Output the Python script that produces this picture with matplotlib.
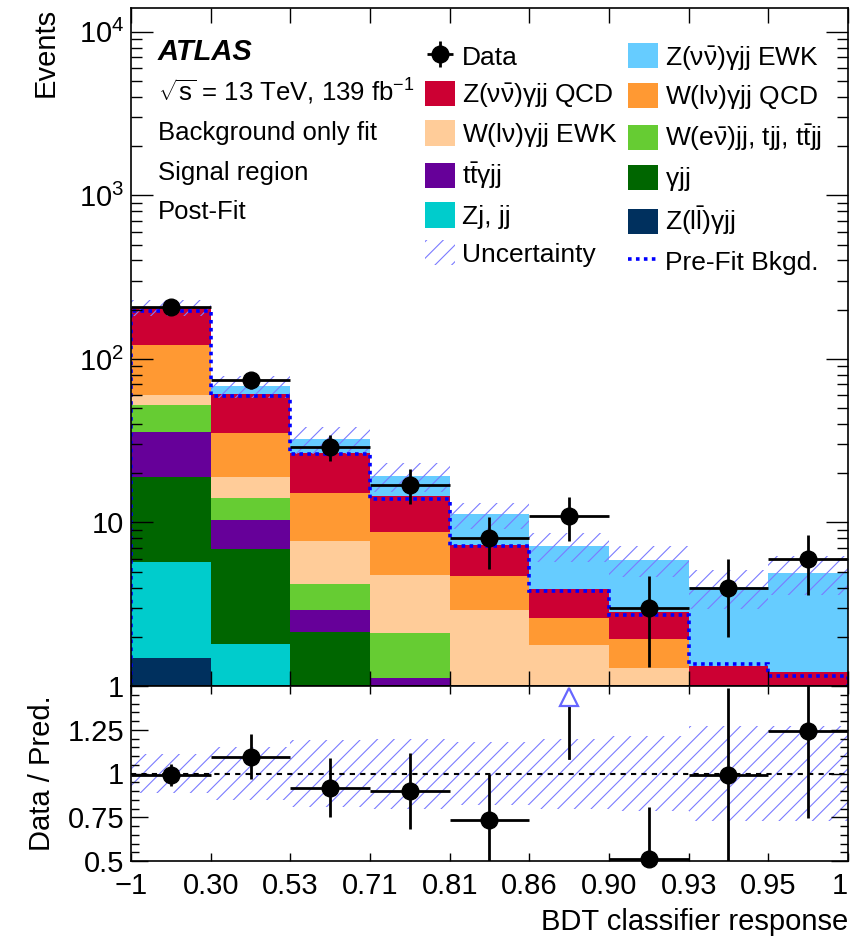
import numpy as np
import matplotlib
matplotlib.use("Agg")
import matplotlib.pyplot as plt
from matplotlib.patches import Patch
from matplotlib.lines import Line2D
from matplotlib.ticker import FixedLocator, LogLocator, NullFormatter, FuncFormatter, MultipleLocator

plt.rcParams['font.family'] = ['Liberation Sans', 'DejaVu Sans']
plt.rcParams['mathtext.fontset'] = 'custom'
plt.rcParams['mathtext.rm'] = 'Liberation Sans'
plt.rcParams['mathtext.it'] = 'Liberation Sans:italic'
plt.rcParams['mathtext.bf'] = 'Liberation Sans:bold'
plt.rcParams['mathtext.sf'] = 'Liberation Sans'
plt.rcParams['hatch.linewidth'] = 0.8

# bin edges of the BDT response (drawn with equal widths)
bin_labels = ["\u22121", "0.30", "0.53", "0.71", "0.81", "0.86", "0.90", "0.93", "0.95", "1"]

# post-fit yields, bottom of the stack first
zll_gjj = [1.49, 0.0, 0.1, 0.05, 0.02, 0.01, 0.01, 0.0, 0.0]
zj_jj = [4.22, 1.80, 0.5, 0.2, 0.1, 0.05, 0.03, 0.01, 0.01]
gjj = [13.26, 5.10, 1.55, 0.4, 0.15, 0.1, 0.05, 0.02, 0.02]
ttgjj = [17.03, 3.40, 0.78, 0.47, 0.2, 0.1, 0.05, 0.02, 0.02]
wejj = [16.2, 3.90, 1.28, 0.98, 0.4, 0.2, 0.1, 0.05, 0.05]
wgjj_ewk = [7.9, 4.90, 3.47, 2.70, 2.06, 1.31, 1.04, 0.3, 0.25]
wgjj_qcd = [62.3, 16.2, 7.5, 3.97, 1.78, 0.83, 0.66, 0.4, 0.35]
zgjj_qcd = [81.6, 25.7, 11.6, 5.73, 2.55, 1.34, 0.89, 0.53, 0.51]
zgjj_ewk = [3.0, 7.0, 5.5, 4.7, 3.94, 3.22, 3.10, 2.70, 3.70]

prefit_bkg = [196, 59.6, 26.4, 14.0, 7.2, 3.8, 2.73, 1.36, 1.15]
unc_rel = [0.11, 0.15, 0.19, 0.20, 0.18, 0.20, 0.215, 0.27, 0.27]

data = [209, 74, 29, 17, 8, 11, 3, 4, 6]
data_err = [14.5, 8.6, 5.4, 4.1, 2.8, 3.3, 1.7, 2.0, 2.4]

ratio = [0.99, 1.095, 0.92, 0.90, 0.733, 1.54, 0.51, 0.99, 1.245]
ratio_err = [0.063, 0.128, 0.17, 0.217, 0.267, 0.45, 0.30, 0.50, 0.50]

samples = [
    (r'Z($\mathrm{l\bar{l}}$)$\mathrm{\gamma}$jj', zll_gjj, '#00305e'),
    ('Zj, jj', zj_jj, '#00cccc'),
    (r'$\mathrm{\gamma}$jj', gjj, '#006600'),
    (r'$\mathrm{t\bar{t}\gamma}$jj', ttgjj, '#660099'),
    (r'W(e$\mathrm{\bar{\nu}}$)jj, tjj, $\mathrm{t\bar{t}}$jj', wejj, '#66cc33'),
    (r'W(l$\mathrm{\nu}$)$\mathrm{\gamma}$jj EWK', wgjj_ewk, '#ffcc99'),
    (r'W(l$\mathrm{\nu}$)$\mathrm{\gamma}$jj QCD', wgjj_qcd, '#ff9933'),
    (r'Z($\mathrm{\nu\bar{\nu}}$)$\mathrm{\gamma}$jj QCD', zgjj_qcd, '#cc0033'),
    (r'Z($\mathrm{\nu\bar{\nu}}$)$\mathrm{\gamma}$jj EWK', zgjj_ewk, '#66ccff'),
]

hatch_col = '#7b7bff'
nb = len(data)
edges = np.arange(nb + 1)
centers = edges[:-1] + 0.5

fig = plt.figure(figsize=(8.51, 9.44), dpi=100)
W, H = 851, 944
ax = fig.add_axes([131 / W, 1 - 686 / H, 717 / W, 678 / H])
rax = fig.add_axes([131 / W, 1 - 861 / H, 717 / W, 175 / H])

# stacked backgrounds
bottom = np.zeros(nb)
handles = {}
for label, vals, col in samples:
    vals = np.array(vals)
    ax.bar(centers, vals, width=1.0, bottom=bottom, color=col, lw=0)
    handles[label] = Patch(facecolor=col, edgecolor='none', label=label)
    bottom = bottom + vals
total = bottom

unc = np.array(unc_rel)
ax.bar(centers, 2 * unc * total, width=1.0, bottom=total * (1 - unc),
       fill=False, hatch='//', edgecolor=hatch_col, lw=0)
ax.stairs(prefit_bkg, edges, color='#0000ff', lw=2.6, ls=(0, (1, 1.2)))
ax.errorbar(centers, data, xerr=0.5, yerr=data_err, fmt='o', color='k',
            ms=12, elinewidth=2, capsize=0, zorder=5)

ax.set_yscale('log')
ax.set_xlim(0, nb)
ax.set_ylim(1, 1.4e4)
ax.xaxis.set_major_locator(FixedLocator(edges))
ax.tick_params(axis='x', which='major', direction='in', top=True, length=11, width=1, labelbottom=False)
ax.yaxis.set_major_locator(LogLocator(base=10, numticks=10))
ax.yaxis.set_minor_locator(LogLocator(base=10, subs=np.arange(2, 10), numticks=20))
ax.yaxis.set_minor_formatter(NullFormatter())

def log_fmt(v, pos):
    if v < 5:
        return '1'
    if v < 50:
        return '10'
    return r'$10^{%d}$' % int(round(np.log10(v)))

ax.yaxis.set_major_formatter(FuncFormatter(log_fmt))
ax.tick_params(axis='y', which='major', direction='in', right=True, length=16, width=1, labelsize=21, pad=5)
ax.tick_params(axis='y', which='minor', direction='in', right=True, length=8, width=1)
for s in ax.spines.values():
    s.set_linewidth(1.2)

ax.set_ylabel('Events', fontsize=21, loc='top', labelpad=14)

# ATLAS label block
def yfrac(py):
    return (686 - py) / 678

tx = (158 - 131) / 717
ax.text(tx, yfrac(52), 'ATLAS', transform=ax.transAxes, fontsize=21, fontweight='bold',
        fontstyle='italic', va='center')
info = [r'$\sqrt{\mathrm{s}}$ = 13 TeV, 139 fb$^{-1}$', 'Background only fit', 'Signal region', 'Post-Fit']
for py, t in zip([92, 133, 173, 212], info):
    ax.text(tx, yfrac(py), t, transform=ax.transAxes, fontsize=18.5, va='center')

# legends
data_handle = ax.errorbar([], [], xerr=1, yerr=1, fmt='o', color='k', ms=12, elinewidth=2)
unc_handle = Patch(facecolor='none', edgecolor=hatch_col, hatch='//', lw=0)
pre_handle = Line2D([], [], color='#0000ff', lw=2.6, ls=(0, (1, 1.2)))

col1 = [(data_handle, 'Data'), (handles[samples[7][0]], samples[7][0]),
        (handles[samples[5][0]], samples[5][0]), (handles[samples[3][0]], samples[3][0]),
        (handles[samples[1][0]], samples[1][0]), (unc_handle, 'Uncertainty')]
col2 = [(handles[samples[8][0]], samples[8][0]), (handles[samples[6][0]], samples[6][0]),
        (handles[samples[4][0]], samples[4][0]), (handles[samples[2][0]], samples[2][0]),
        (handles[samples[0][0]], samples[0][0]), (pre_handle, 'Pre-Fit Bkgd.')]

leg_kw = dict(loc='upper left', frameon=False, fontsize=19, handlelength=1.15, handleheight=1.1,
              handletextpad=0.25, labelspacing=0.42, borderpad=0, borderaxespad=0)
leg1 = ax.legend([h for h, _ in col1], [l for _, l in col1],
                 bbox_to_anchor=((425 - 131) / 717, yfrac(43)), **leg_kw)
ax.add_artist(leg1)
ax.legend([h for h, _ in col2], [l for _, l in col2],
          bbox_to_anchor=((628 - 131) / 717, yfrac(43)), **leg_kw)

# ratio panel
rax.bar(centers, 2 * unc, width=1.0, bottom=1 - unc, fill=False, hatch='//', edgecolor=hatch_col, lw=0)
rax.axhline(1, color='k', lw=1.5, ls=(0, (2.5, 2.5)))
ratio = np.array(ratio)
ratio_err = np.array(ratio_err)
inside = ratio <= 1.5
rax.errorbar(centers[inside], ratio[inside], xerr=0.5, yerr=ratio_err[inside], fmt='none',
             ecolor='k', elinewidth=2, capsize=0)
rax.plot(centers[inside], ratio[inside], 'o', color='k', ms=12, clip_on=False, zorder=5)
for c, r, e in zip(centers[~inside], ratio[~inside], ratio_err[~inside]):
    rax.plot([c, c], [r - e, 1.39], color='k', lw=2)
    rax.plot(c, 1.44, marker='^', ms=13, mfc='white', mec='#6666ff', mew=1.6, clip_on=False)

rax.set_xlim(0, nb)
rax.set_ylim(0.5, 1.5)
rax.xaxis.set_major_locator(FixedLocator(edges))
rax.set_xticklabels(bin_labels)
rax.get_xticklabels()[-1].set_horizontalalignment('right')
rax.tick_params(axis='x', which='major', direction='in', top=True, length=6, width=1, labelsize=21, pad=8)
rax.yaxis.set_major_locator(FixedLocator([0.5, 0.75, 1.0, 1.25, 1.5]))
rax.set_yticklabels(['0.5', '0.75', '1', '1.25', ''])
rax.yaxis.set_minor_locator(MultipleLocator(0.05))
rax.tick_params(axis='y', which='major', direction='in', right=True, length=12, width=1, labelsize=21, pad=5)
rax.tick_params(axis='y', which='minor', direction='in', right=True, length=6, width=1)
for s in rax.spines.values():
    s.set_linewidth(1.2)
rax.set_ylabel('Data / Pred.', fontsize=21, labelpad=8)
rax.set_xlabel('BDT classifier response', fontsize=21, loc='right', labelpad=6)

fig.align_ylabels([ax, rax])
fig.savefig('out.png', dpi=100)
